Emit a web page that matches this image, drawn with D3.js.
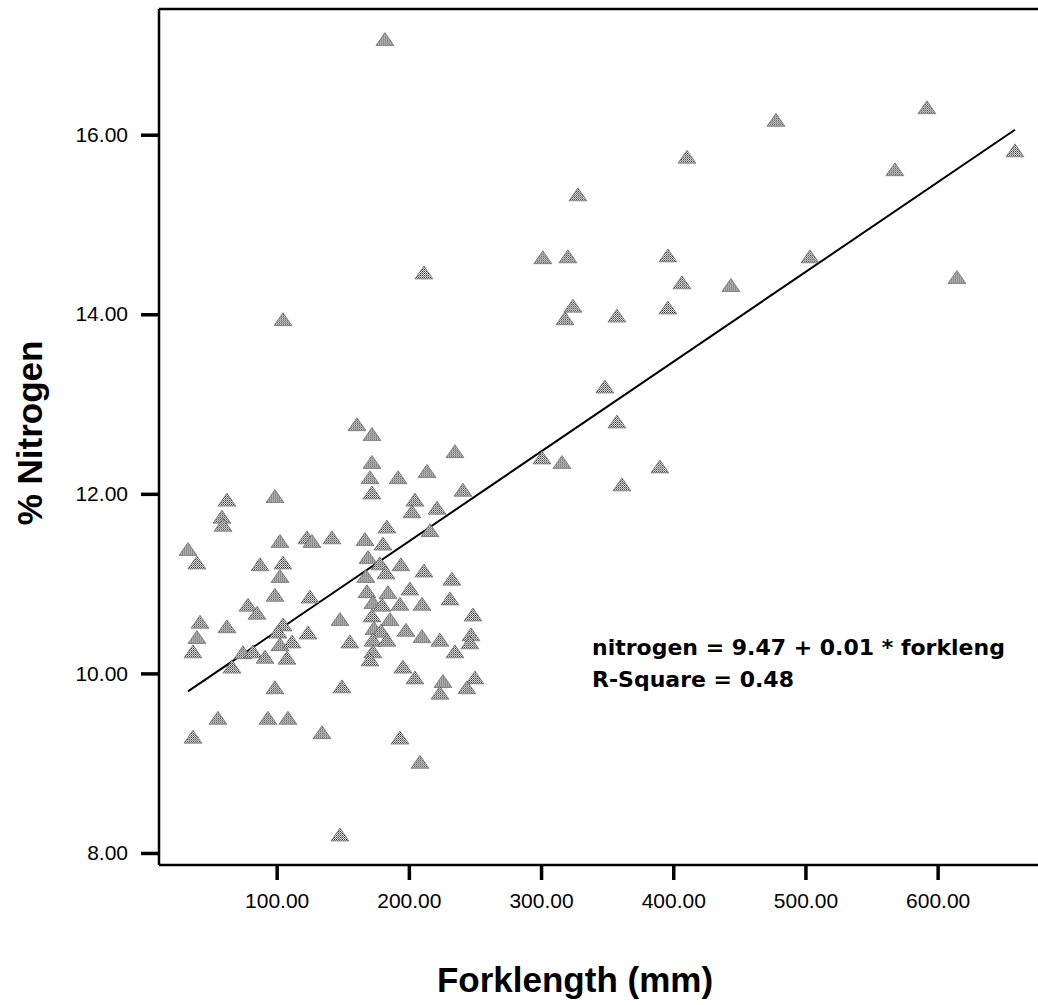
<!DOCTYPE html>
<html>
<head>
<meta charset="utf-8">
<script src="https://cdn.jsdelivr.net/npm/d3@7"></script>
<style>
  body { margin: 0; background: #fff; }
  svg { display: block; }
</style>
</head>
<body>
<div id="chart"></div>
<script>
// scatter of forklength vs % nitrogen with the fitted line (spss style)

// forklength (mm) for each fish
var forkLength = [
  181.9, 591.9, 477.7, 658.5, 410.4, 567.7, 327.9, 503.4, 301.4, 320.3,
  396.0, 211.4, 406.6, 443.6, 614.6, 104.8, 324.1, 318.1, 357.4, 396.0,
  348.3, 357.4, 300.7, 315.8, 389.9, 361.2, 160.7, 172.1, 234.9, 172.1,
  170.6, 191.8, 213.7, 172.1, 240.9, 204.6, 202.3, 221.3, 62.4, 58.6,
  59.4, 98.7, 102.5, 122.9, 126.7, 141.8, 32.9, 39.7, 87.4, 104.8,
  102.5, 98.7, 125.2, 183.4, 216.0, 166.8, 180.4, 169.1, 178.1, 194.0,
  211.4, 167.5, 182.7, 232.6, 200.8, 168.3, 184.2, 231.1, 78.3, 85.1,
  42.0, 62.4, 39.7, 36.7, 147.9, 104.8, 101.0, 123.7, 155.4, 102.5,
  111.6, 74.5, 82.1, 91.2, 107.8, 66.2, 98.7, 149.4, 55.6, 93.4,
  108.5, 134.3, 36.7, 147.9, 172.8, 179.7, 193.3, 209.9, 172.1, 185.7,
  173.6, 178.9, 197.8, 172.8, 183.4, 209.9, 223.5, 172.8, 234.9, 170.6,
  248.5, 247.0, 246.2, 195.5, 204.6, 225.8, 223.5, 250.0, 243.9, 193.3,
  208.4
];

// % nitrogen, same order as above
var nitrogen = [
  17.06, 16.30, 16.16, 15.82, 15.75, 15.61, 15.33, 14.64, 14.63, 14.64,
  14.65, 14.46, 14.35, 14.32, 14.41, 13.94, 14.09, 13.95, 13.98, 14.07,
  13.19, 12.80, 12.40, 12.35, 12.30, 12.10, 12.77, 12.66, 12.47, 12.35,
  12.18, 12.18, 12.25, 12.01, 12.04, 11.93, 11.80, 11.84, 11.93, 11.74,
  11.65, 11.97, 11.47, 11.51, 11.47, 11.51, 11.38, 11.23, 11.21, 11.23,
  11.08, 10.87, 10.85, 11.63, 11.59, 11.49, 11.44, 11.29, 11.22, 11.21,
  11.14, 11.08, 11.12, 11.05, 10.94, 10.91, 10.90, 10.83, 10.76, 10.67,
  10.57, 10.52, 10.40, 10.24, 10.60, 10.54, 10.46, 10.45, 10.35, 10.32,
  10.35, 10.23, 10.24, 10.18, 10.17, 10.07, 9.84, 9.85, 9.50, 9.50,
  9.50, 9.34, 9.29, 8.20, 10.79, 10.76, 10.77, 10.77, 10.64, 10.60,
  10.50, 10.47, 10.48, 10.37, 10.37, 10.41, 10.37, 10.24, 10.24, 10.15,
  10.65, 10.43, 10.34, 10.07, 9.95, 9.91, 9.78, 9.95, 9.84, 9.28,
  9.01
];

var xTicks = [100, 200, 300, 400, 500, 600];
var yTicks = [8, 10, 12, 14, 16];

// fit from the picture: nitrogen = 9.47 + 0.01 * forkleng
var fitIntercept = 9.47;
var fitSlope = 0.01;
var fitLabels = ["nitrogen = 9.47 + 0.01 * forkleng", "R-Square = 0.48"];

var width = 1038;
var height = 1005;

// plot box, the right side runs off the picture like in the scan
// (careful: "top" is taken by window.top, so prefix these)
var plotLeft = 159, plotTop = 9, plotBottom = 865, plotRight = 1050;

var x = d3.scaleLinear().domain([11, 685]).range([plotLeft, plotRight]);
var y = d3.scaleLinear().domain([7.866, 17.40]).range([plotBottom, plotTop]);

var points = forkLength.map(function(d, i) { return { fl: d, n: nitrogen[i] }; });

var svg = d3.select("#chart")
  .append("svg")
  .attr("width", width)
  .attr("height", height);

// dithered grey like the old spss markers
var defs = svg.append("defs");
var pat = defs.append("pattern")
  .attr("id", "dither")
  .attr("patternUnits", "userSpaceOnUse")
  .attr("width", 2)
  .attr("height", 2);
pat.append("rect").attr("width", 2).attr("height", 2).attr("fill", "#e4e4e4");
pat.append("rect").attr("width", 1).attr("height", 1).attr("fill", "#333");
pat.append("rect").attr("x", 1).attr("y", 1).attr("width", 1).attr("height", 1).attr("fill", "#777");

// frame: left, top and bottom lines only (right edge is cut off)
svg.append("line")
  .attr("x1", plotLeft).attr("x2", plotLeft)
  .attr("y1", plotTop).attr("y2", plotBottom)
  .attr("stroke", "#000").attr("stroke-width", 2.5);
svg.append("line")
  .attr("x1", plotLeft).attr("x2", width)
  .attr("y1", plotTop).attr("y2", plotTop)
  .attr("stroke", "#000").attr("stroke-width", 2.5);
svg.append("line")
  .attr("x1", plotLeft).attr("x2", width)
  .attr("y1", plotBottom).attr("y2", plotBottom)
  .attr("stroke", "#000").attr("stroke-width", 2.5);

// axes
var xAxis = svg.append("g")
  .attr("transform", "translate(0," + plotBottom + ")")
  .call(d3.axisBottom(x)
    .tickValues(xTicks)
    .tickFormat(d3.format(".2f"))
    .tickSize(15)
    .tickPadding(13));

var yAxis = svg.append("g")
  .attr("transform", "translate(" + plotLeft + ",0)")
  .call(d3.axisLeft(y)
    .tickValues(yTicks)
    .tickFormat(d3.format(".2f"))
    .tickSize(18)
    .tickPadding(13));

[xAxis, yAxis].forEach(function(ax) {
  ax.attr("font-size", null).attr("font-family", null);
  ax.select(".domain").remove();
  ax.selectAll(".tick line").attr("stroke", "#000").attr("stroke-width", 3.5);
  ax.selectAll(".tick text")
    .attr("fill", "#000")
    .style("font-family", "Arial, 'Liberation Sans', sans-serif")
    .style("font-size", "21px");
});

// regression line across the data range
var xExt = d3.extent(forkLength);
var fitLine = d3.line()
  .x(function(d) { return x(d); })
  .y(function(d) { return y(fitIntercept + fitSlope * d); });

svg.append("path")
  .datum(xExt)
  .attr("d", fitLine)
  .attr("fill", "none")
  .attr("stroke", "#000")
  .attr("stroke-width", 2);

// triangle markers, a bit squat like the original
svg.append("g")
  .selectAll("path")
  .data(points)
  .enter().append("path")
  .attr("transform", function(d) { return "translate(" + x(d.fl) + "," + y(d.n) + ")"; })
  .attr("d", "M0,-7L9,6L-9,6Z")
  .attr("fill", "url(#dither)")
  .attr("stroke", "#555")
  .attr("stroke-width", 0.6);

// equation text
svg.append("g")
  .selectAll("text")
  .data(fitLabels)
  .enter().append("text")
  .attr("x", 592)
  .attr("y", function(d, i) { return 655 + i * 32; })
  .style("font-family", "'DejaVu Sans', sans-serif")
  .style("font-weight", "bold")
  .style("font-size", "22px")
  .attr("fill", "#000")
  .text(function(d) { return d; });

// axis titles
svg.append("text")
  .attr("x", 575)
  .attr("y", 992)
  .attr("text-anchor", "middle")
  .style("font-family", "Arial, 'Liberation Sans', sans-serif")
  .style("font-weight", "bold")
  .style("font-size", "35px")
  .text("Forklength (mm)");

svg.append("text")
  .attr("transform", "translate(42,433) rotate(-90)")
  .attr("text-anchor", "middle")
  .style("font-family", "Arial, 'Liberation Sans', sans-serif")
  .style("font-weight", "bold")
  .style("font-size", "35px")
  .text("% Nitrogen");
</script>
</body>
</html>
